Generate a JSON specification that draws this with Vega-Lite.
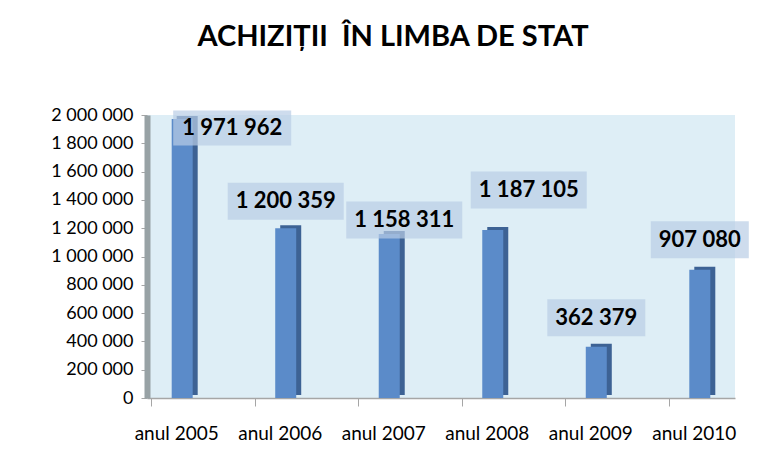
{
  "$schema": "https://vega.github.io/schema/vega-lite/v6.json",
  "width": 588,
  "height": 283,
  "autosize": {"type": "none"},
  "padding": {"left": 147, "top": 115, "right": 40, "bottom": 67},
  "background": "white",
  "title": {
    "text": "ACHIZIȚII\u00a0 ÎN LIMBA DE STAT",
    "font": "Lato",
    "fontSize": 29,
    "fontWeight": "bold",
    "color": "#000000",
    "anchor": "middle",
    "dx": -48,
    "baseline": "alphabetic",
    "offset": 31
  },
  "config": {
    "locale": {"number": {"decimal": ",", "thousands": " ", "grouping": [3], "currency": ["", ""]}},
    "view": {"fill": "#deeef6", "stroke": null},
    "axis": {"labelFont": "Lato", "labelColor": "#000000", "grid": false}
  },
  "data": {
    "values": [
      {"year": "anul 2005", "value": 1971962},
      {"year": "anul 2006", "value": 1200359},
      {"year": "anul 2007", "value": 1158311},
      {"year": "anul 2008", "value": 1187105},
      {"year": "anul 2009", "value": 362379},
      {"year": "anul 2010", "value": 907080}
    ]
  },
  "encoding": {
    "x": {
      "field": "year",
      "type": "nominal",
      "sort": null,
      "scale": {"type": "point", "padding": 0.34},
      "axis": {
        "title": null,
        "labelAngle": 0,
        "labelFontSize": 19,
        "labelPadding": 18,
        "labelOffset": 25,
        "ticks": true,
        "tickOffset": -31,
        "tickSize": 8,
        "tickColor": "#a6a6a6",
        "domainColor": "#a6a6a6",
        "domainWidth": 1.5
      }
    },
    "y": {
      "field": "value",
      "type": "quantitative",
      "scale": {"domain": [0, 2000000]},
      "axis": {
        "title": null,
        "values": [0, 200000, 400000, 600000, 800000, 1000000, 1200000, 1400000, 1600000, 1800000, 2000000],
        "format": ",.0f",
        "labelFontSize": 18,
        "labelPadding": 8,
        "tickSize": 6,
        "tickColor": "#a6a6a6",
        "domainColor": "#98a2a5",
        "domainWidth": 6
      }
    }
  },
  "layer": [
    {
      "mark": {"type": "bar", "size": 21, "color": "#3d6294", "xOffset": 5, "yOffset": -3},
      "encoding": {}
    },
    {
      "mark": {"type": "bar", "size": 21, "color": "#5b8bc9"},
      "encoding": {}
    },
    {
      "transform": [{"filter": "datum.year == 'anul 2005'"}],
      "layer": [
        {"mark": {"type": "tick", "thickness": 35, "size": 118, "color": "#b9cde5", "xOffset": 50, "yOffset": 9}, "encoding": {}},
        {"mark": {"type": "text", "font": "Lato", "fontSize": 22, "fontWeight": "bold", "color": "#000000", "baseline": "middle", "dx": 50, "dy": 9},
         "encoding": {"text": {"field": "value", "type": "quantitative", "format": ",.0f"}}}
      ]
    },
    {
      "transform": [{"filter": "datum.year == 'anul 2006'"}],
      "layer": [
        {"mark": {"type": "tick", "thickness": 37, "size": 116, "color": "#b9cde5", "yOffset": -27}, "encoding": {}},
        {"mark": {"type": "text", "font": "Lato", "fontSize": 22, "fontWeight": "bold", "color": "#000000", "baseline": "middle", "dy": -27},
         "encoding": {"text": {"field": "value", "type": "quantitative", "format": ",.0f"}}}
      ]
    },
    {
      "transform": [{"filter": "datum.year == 'anul 2007'"}],
      "layer": [
        {"mark": {"type": "tick", "thickness": 37, "size": 116, "color": "#b9cde5", "xOffset": 15, "yOffset": -14}, "encoding": {}},
        {"mark": {"type": "text", "font": "Lato", "fontSize": 22, "fontWeight": "bold", "color": "#000000", "baseline": "middle", "dx": 15, "dy": -14},
         "encoding": {"text": {"field": "value", "type": "quantitative", "format": ",.0f"}}}
      ]
    },
    {
      "transform": [{"filter": "datum.year == 'anul 2008'"}],
      "layer": [
        {"mark": {"type": "tick", "thickness": 37, "size": 116, "color": "#b9cde5", "xOffset": 36, "yOffset": -40}, "encoding": {}},
        {"mark": {"type": "text", "font": "Lato", "fontSize": 22, "fontWeight": "bold", "color": "#000000", "baseline": "middle", "dx": 36, "dy": -40},
         "encoding": {"text": {"field": "value", "type": "quantitative", "format": ",.0f"}}}
      ]
    },
    {
      "transform": [{"filter": "datum.year == 'anul 2009'"}],
      "layer": [
        {"mark": {"type": "tick", "thickness": 37, "size": 98, "color": "#b9cde5", "yOffset": -29}, "encoding": {}},
        {"mark": {"type": "text", "font": "Lato", "fontSize": 22, "fontWeight": "bold", "color": "#000000", "baseline": "middle", "dy": -29},
         "encoding": {"text": {"field": "value", "type": "quantitative", "format": ",.0f"}}}
      ]
    },
    {
      "transform": [{"filter": "datum.year == 'anul 2010'"}],
      "layer": [
        {"mark": {"type": "tick", "thickness": 37, "size": 98, "color": "#b9cde5", "yOffset": -30}, "encoding": {}},
        {"mark": {"type": "text", "font": "Lato", "fontSize": 22, "fontWeight": "bold", "color": "#000000", "baseline": "middle", "dy": -30},
         "encoding": {"text": {"field": "value", "type": "quantitative", "format": ",.0f"}}}
      ]
    }
  ]
}
